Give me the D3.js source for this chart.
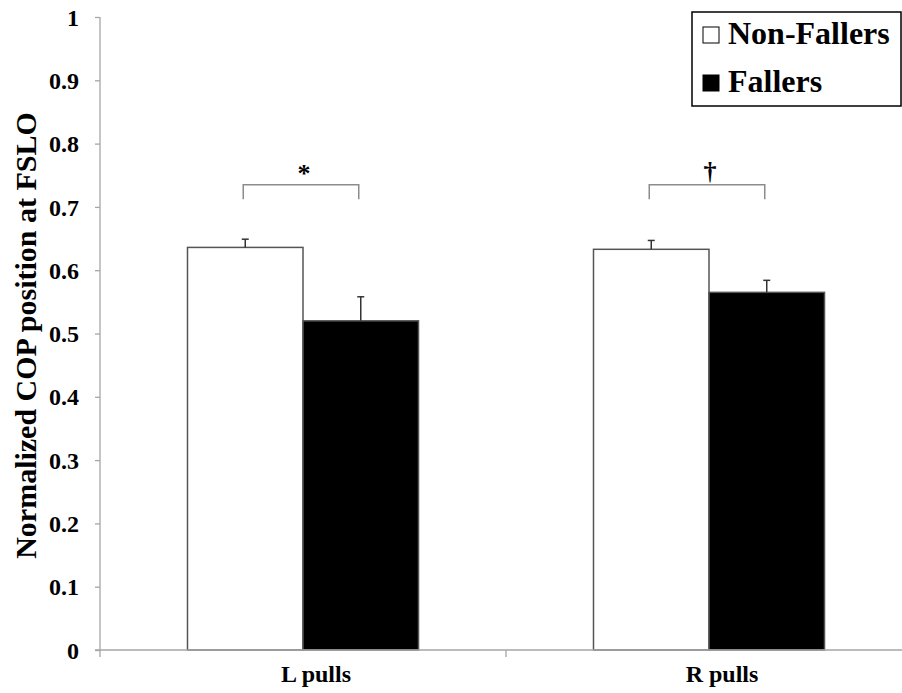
<html>
<head>
<meta charset="utf-8">
<title>COP position at FSLO</title>
<script src="https://d3js.org/d3.v7.min.js"></script>
<style>
  body { margin: 0; background: #fff; }
</style>
</head>
<body>
<script>

    const width = 902;
    const height = 693;

    // data
    const categories = ["L pulls", "R pulls"];
    const series = ["Non-Fallers", "Fallers"];
    const nonFallers = [0.636, 0.633];
    const fallers = [0.520, 0.565];
    const nonFallersErr = [0.013, 0.014];
    const fallersErr = [0.038, 0.019];
    const sigMarks = ["*", "\u2020"];
    const yTicks = [0, 0.1, 0.2, 0.3, 0.4, 0.5, 0.6, 0.7, 0.8, 0.9, 1];

    const plotLeft = 100, plotRight = 912, plotTop = 17, plotBottom = 650;
    const serif = "'Liberation Serif', 'Times New Roman', serif";

    const svg = d3.select("body").append("svg")
        .attr("width", width)
        .attr("height", height)
        .style("font-family", serif)
        .style("font-weight", "bold");

    const y = d3.scaleLinear().domain([0, 1]).range([plotBottom, plotTop]);

    const x = d3.scaleBand()
        .domain(categories)
        .range([plotLeft, plotRight])
        .paddingInner(0.431)
        .paddingOuter(0.2155);

    const xs = d3.scaleBand()
        .domain(series)
        .range([0, x.bandwidth()]);

    const colors = {"Non-Fallers": "#fff", "Fallers": "#000"};

    const rows = [];
    categories.forEach((c, i) => {
        rows.push({cat: c, s: "Non-Fallers", v: nonFallers[i], e: nonFallersErr[i]});
        rows.push({cat: c, s: "Fallers", v: fallers[i], e: fallersErr[i]});
    });

    // y axis
    const yAxis = d3.axisLeft(y)
        .tickValues(yTicks)
        .tickSize(5)
        .tickPadding(16)
        .tickFormat(d => d === 0 || d === 1 ? d3.format("d")(d) : d3.format(".1f")(d));

    const gy = svg.append("g")
        .attr("transform", `translate(${plotLeft},0)`)
        .call(yAxis)
        .attr("font-family", null)
        .attr("font-size", null);
    gy.select(".domain").remove();
    gy.selectAll(".tick line").attr("stroke", "#a6a6a6").attr("stroke-width", 1.3);
    gy.selectAll(".tick text")
        .style("font-family", serif)
        .style("font-weight", "bold")
        .style("font-size", "24px")
        .attr("fill", "#000")
        .attr("dy", "0.34em");
    gy.append("line")
        .attr("x1", 0).attr("x2", 0)
        .attr("y1", plotTop).attr("y2", plotBottom + 7)
        .attr("stroke", "#a6a6a6").attr("stroke-width", 1.3);

    // bars
    svg.append("g").selectAll("rect")
        .data(rows)
        .join("rect")
        .attr("x", d => x(d.cat) + xs(d.s))
        .attr("y", d => y(d.v))
        .attr("width", xs.bandwidth())
        .attr("height", d => y(0) - y(d.v))
        .attr("fill", d => colors[d.s])
        .attr("stroke", "#555")
        .attr("stroke-width", 1.5);

    // error bars
    const eb = svg.append("g").selectAll("g")
        .data(rows)
        .join("g")
        .attr("stroke", "#333")
        .attr("stroke-width", 1.5);
    eb.append("line")
        .attr("x1", d => x(d.cat) + xs(d.s) + xs.bandwidth() / 2)
        .attr("x2", d => x(d.cat) + xs(d.s) + xs.bandwidth() / 2)
        .attr("y1", d => y(d.v))
        .attr("y2", d => y(d.v + d.e));
    eb.append("line")
        .attr("x1", d => x(d.cat) + xs(d.s) + xs.bandwidth() / 2 - 3.5)
        .attr("x2", d => x(d.cat) + xs(d.s) + xs.bandwidth() / 2 + 3.5)
        .attr("y1", d => y(d.v + d.e))
        .attr("y2", d => y(d.v + d.e));

    // x axis
    svg.append("line")
        .attr("x1", plotLeft - 5).attr("x2", plotRight)
        .attr("y1", plotBottom).attr("y2", plotBottom)
        .attr("stroke", "#a6a6a6").attr("stroke-width", 1.5);
    svg.append("line")
        .attr("x1", x.step() + plotLeft).attr("x2", x.step() + plotLeft)
        .attr("y1", plotBottom).attr("y2", plotBottom + 7)
        .attr("stroke", "#a6a6a6").attr("stroke-width", 1.3);

    svg.append("g").selectAll("text")
        .data(categories)
        .join("text")
        .attr("x", d => x(d) + x.bandwidth() / 2 + 13)
        .attr("y", 682)
        .attr("text-anchor", "middle")
        .style("font-size", "24px")
        .text(d => d);

    // significance brackets
    const bracketTop = 0.735, bracketEnd = 0.712;
    const br = svg.append("g").selectAll("g")
        .data(categories)
        .join("g");
    br.append("path")
        .attr("d", d => {
            const x1 = x(d) + xs("Non-Fallers") + xs.bandwidth() / 2 - 2;
            const x2 = x(d) + xs("Fallers") + xs.bandwidth() / 2 - 2;
            return `M${x1},${y(bracketEnd)}V${y(bracketTop)}H${x2}V${y(bracketEnd)}`;
        })
        .attr("fill", "none")
        .attr("stroke", "#8c8c8c")
        .attr("stroke-width", 1.5);
    br.append("text")
        .attr("x", d => x(d) + x.bandwidth() / 2 + 1)
        .attr("y", (d, i) => i === 0 ? 182 : 180)
        .attr("text-anchor", "middle")
        .attr("fill", "#000")
        .style("font-size", "26px")
        .style("font-weight", "bold")
        .text((d, i) => sigMarks[i]);

    // legend
    const lg = svg.append("g");
    lg.append("rect")
        .attr("x", 692).attr("y", 12)
        .attr("width", 209).attr("height", 94)
        .attr("fill", "#fff")
        .attr("stroke", "#000")
        .attr("stroke-width", 1.5);
    const li = lg.selectAll("g.item")
        .data(series)
        .join("g")
        .attr("class", "item")
        .attr("transform", (d, i) => `translate(703,${27 + i * 48})`);
    li.append("rect")
        .attr("width", 16).attr("height", 16)
        .attr("fill", d => colors[d])
        .attr("stroke", "#000")
        .attr("stroke-width", 1);
    li.append("text")
        .attr("x", 25)
        .attr("y", 17)
        .style("font-size", "32px")
        .text(d => d);

    // y title
    svg.append("text")
        .attr("transform", `translate(36,${(plotTop + plotBottom) / 2 + 2}) rotate(-90)`)
        .attr("text-anchor", "middle")
        .style("font-size", "30px")
        .text("Normalized COP position at FSLO");

</script>
</body>
</html>
